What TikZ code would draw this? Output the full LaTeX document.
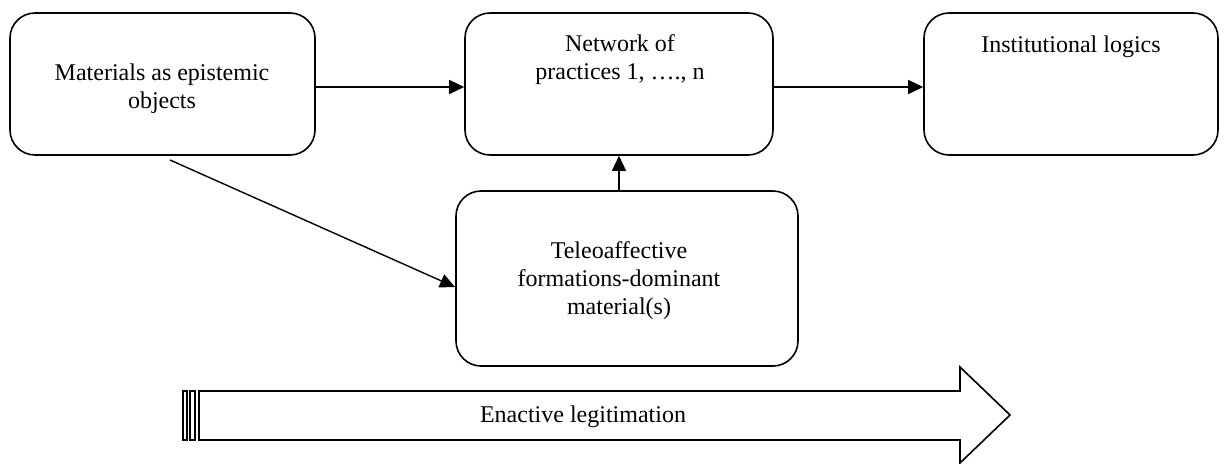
\documentclass[tikz,border=0pt]{standalone}
\usepackage{fontspec}
\setmainfont{Liberation Serif}
\usetikzlibrary{arrows.meta}
\begin{document}
\begin{tikzpicture}[x=1pt,y=-1pt,
  box/.style={draw,line width=1.6pt,rounded corners=25pt,inner sep=0pt},
  lbl/.style={align=center,inner sep=0pt,font=\fontsize{24}{28}\selectfont},
  conn/.style={line width=1.4pt,-{Triangle[length=15pt,width=14pt]}},
  bigarrow/.style={draw,line width=1.6pt,fill=white}]
\useasboundingbox (0,0) rectangle (1228,463);
% boxes
\node[box,minimum width=305pt,minimum height=142pt] (mat) at (162.5,84) {};
\node[box,minimum width=308pt,minimum height=142pt] (net) at (619,84) {};
\node[box,minimum width=294pt,minimum height=142pt] (inst) at (1071,84) {};
\node[box,minimum width=342pt,minimum height=175pt] (tele) at (627,278.5) {};
% texts
\node[lbl] (matT) at (162,89) {Materials as epistemic\\objects};
\node[lbl] (netT) at (620,60) {Network of\\practices 1, …., n};
\node[lbl] (instT) at (1071,47) {Institutional logics};
\node[lbl] (teleT) at (619,281) {Teleoaffective\\formations-dominant\\material(s)};
% connectors
\draw[conn] (mat.east |- 0,87) -- (net.west |- 0,87);
\draw[conn] (net.east |- 0,87) -- (inst.west |- 0,87);
\draw[conn] (tele.north -| 619,0) -- (net.south -| 619,0);
\coordinate (diagS) at (170,160);
\draw[conn] (diagS) -- (455,287);
% big arrow
\draw[bigarrow] (199,391) -- (960,391) -- (960,367) -- (1010,415) -- (960,463) -- (960,440) -- (199,440) -- cycle;
\draw[line width=1.6pt] (183,391) rectangle (187,440);
\draw[line width=1.6pt] (190,391) rectangle (195,440);
\node[lbl] (enact) at (583,417) {Enactive legitimation};
\end{tikzpicture}
\end{document}
